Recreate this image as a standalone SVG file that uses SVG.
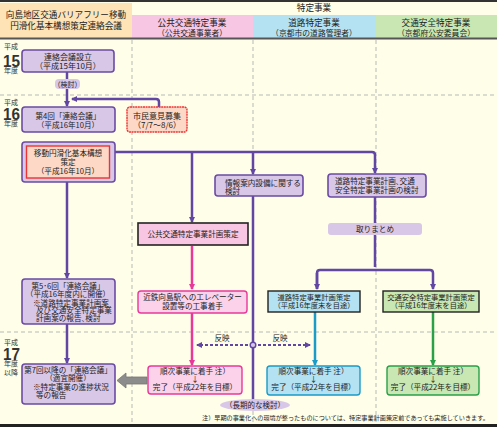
<svg xmlns="http://www.w3.org/2000/svg" width="497" height="427" viewBox="0 0 497 427">
<style>
text{font-family:"Noto Sans CJK JP","Noto Sans CJK SC",sans-serif;fill:#222;font-size:7.6px}
.c{text-anchor:middle}
.h{font-size:8.6px}
.sub{font-size:7.8px}
.yr{font-family:"Liberation Sans",sans-serif;font-weight:bold;font-size:17px;fill:#333}
.ys{font-size:7px;fill:#333}
.pn{fill:#d9c7e7;stroke:#6a4ca3;stroke-width:1.6}
.pill{fill:#d9c7e7;stroke:none}
.red{fill:#fdd8c6;stroke:#ee3333;stroke-width:1.4}
.pl{fill:none;stroke:#6246a3;stroke-width:2.5}
.pk{fill:none;stroke:#e8389a;stroke-width:2.5}
.bl{fill:none;stroke:#1a9bc8;stroke-width:2.5}
.gr{fill:none;stroke:#2aa048;stroke-width:2.5}
.grid{stroke:#b8b8b8;stroke-width:1;stroke-dasharray:4 3;fill:none}
</style>
<defs>
<marker id="ap" markerWidth="6" markerHeight="6" refX="5" refY="3" orient="auto" markerUnits="userSpaceOnUse"><path d="M0,0 L6,3 L0,6 z" fill="#6246a3"/></marker>
<marker id="ak" markerWidth="6" markerHeight="6" refX="5" refY="3" orient="auto" markerUnits="userSpaceOnUse"><path d="M0,0 L6,3 L0,6 z" fill="#e8389a"/></marker>
<marker id="ab" markerWidth="6" markerHeight="6" refX="5" refY="3" orient="auto" markerUnits="userSpaceOnUse"><path d="M0,0 L6,3 L0,6 z" fill="#1a9bc8"/></marker>
<marker id="ag" markerWidth="6" markerHeight="6" refX="5" refY="3" orient="auto" markerUnits="userSpaceOnUse"><path d="M0,0 L6,3 L0,6 z" fill="#2aa048"/></marker>
</defs>
<rect x="0" y="0" width="497" height="427" fill="#fffee8"/>
<g id="header">
<rect x="0" y="3" width="132" height="35" fill="#fde3b6"/>
<rect x="132" y="15" width="121" height="23" fill="#f6c6e3"/>
<rect x="253" y="15" width="123" height="23" fill="#b5e2f2"/>
<rect x="376" y="15" width="121" height="23" fill="#c8e7b3"/>
<rect x="0" y="0" width="497" height="2" fill="#333"/>
<rect x="0" y="37.5" width="497" height="2" fill="#555"/>
<text class="h c"><tspan x="66" y="17.5">向島地区交通バリアフリー移動</tspan><tspan x="66" y="29">円滑化基本構想策定連絡会議</tspan></text>
<text class="h c" x="314" y="11">特定事業</text>
<text class="h c"><tspan x="192" y="26">公共交通特定事業</tspan><tspan class="sub" x="192" y="35.5">（公共交通事業者）</tspan></text>
<text class="h c"><tspan x="314" y="26">道路特定事業</tspan><tspan class="sub" x="314" y="35.5">（京都市の道路管理者）</tspan></text>
<text class="h c"><tspan x="436" y="26">交通安全特定事業</tspan><tspan class="sub" x="436" y="35.5">（京都府公安委員会）</tspan></text>
</g>
<g id="grid">
<path class="grid" d="M132,40 V423 M253,40 V423 M376,40 V423 M0,95 H497 M0,332 H497"/>
</g>
<g id="years">
<text class="ys"><tspan x="4" y="49">平成</tspan><tspan class="yr" x="3" y="67" textLength="17" lengthAdjust="spacingAndGlyphs">15</tspan><tspan x="4" y="73">年度</tspan></text>
<text class="ys"><tspan x="4" y="105">平成</tspan><tspan class="yr" x="3" y="120" textLength="17" lengthAdjust="spacingAndGlyphs">16</tspan><tspan x="4" y="126">年度</tspan></text>
<text class="ys"><tspan x="4" y="345">平成</tspan><tspan class="yr" x="3" y="360" textLength="17" lengthAdjust="spacingAndGlyphs">17</tspan><tspan x="4" y="366">年度</tspan><tspan x="4" y="375">以降</tspan></text>
</g>
<g id="connectors">
<path class="pl" d="M67,72 V79"/>
<path class="pl" d="M67,89 V106" marker-end="url(#ap)"/>
<path class="pl" d="M159,107 V102 Q159,99 156,99 H72" marker-end="url(#ap)"/>
<path class="pl" d="M67,182 V278" marker-end="url(#ap)"/>
<path class="pl" d="M67,324 V363" marker-end="url(#ap)"/>
<path class="pl" d="M115,152 H372 Q375,152 375,155 V173" marker-end="url(#ap)"/>
<path class="pl" d="M192,152 V222" marker-end="url(#ap)"/>
<path class="pl" d="M253,152 V174" marker-end="url(#ap)"/>
<path class="pl" d="M253,196 V400"/>
<path class="pl" d="M375,197 V267"/>
<path class="pl" d="M317,289 V273 Q317,270 320,270 H430 Q433,270 433,273 V289" marker-end="url(#ap)"/>
<path class="pl" d="M317,273 V289" marker-end="url(#ap)"/>
<path class="pk" d="M192,246 V289" marker-end="url(#ak)"/>
<path class="pk" d="M192,313 V365" marker-end="url(#ak)"/>
<path class="bl" d="M315,312 V365" marker-end="url(#ab)"/>
<path class="gr" d="M433,312 V365" marker-end="url(#ag)"/>
<path d="M253,345 H197" fill="none" stroke="#6246a3" stroke-width="2" stroke-dasharray="3 2" marker-end="url(#ap)"/>
<path d="M253,345 H310" fill="none" stroke="#6246a3" stroke-width="2" stroke-dasharray="3 2" marker-end="url(#ap)"/>
<circle cx="253" cy="345" r="2.8" fill="#d9c7e7" stroke="#6246a3" stroke-width="1.4"/>
<text x="222" y="341" class="c">反映</text>
<text x="280" y="341" class="c">反映</text>
<path d="M147,377 H126 V373 L117,380.5 L126,388 V384 H147 z" fill="#8c8c8c" stroke="#777" stroke-width="0.8"/>
</g>
<g id="n1"><rect class="pn" x="22" y="50" width="92" height="22" rx="3"/><text class="c" style="font-size:8px"><tspan x="68" y="60">連絡会議設立</tspan><tspan x="68" y="69">（平成15年10月）</tspan></text></g>
<g id="n2"><rect class="pill" x="55" y="79" width="25" height="10" rx="4"/><text class="c" x="67.5" y="87" style="font-size:7px">（検討）</text></g>
<g id="n3"><rect class="pn" x="22" y="107" width="93" height="25" rx="3"/><text class="c"><tspan x="68" y="119">第4回「連絡会議」</tspan><tspan x="68" y="128">（平成16年10月）</tspan></text></g>
<g id="n4"><rect class="red" x="127" y="107" width="60" height="25" rx="3" stroke-dasharray="2 0.6"/><text class="c" style="font-size:8px"><tspan x="157" y="119">市民意見募集</tspan><tspan x="157" y="128">（7/7～8/6）</tspan></text></g>
<g id="n5"><rect class="pn" x="22" y="142" width="93" height="40" rx="3"/><rect class="red" x="26.5" y="146" width="83" height="32"/><text class="c"><tspan x="68" y="156">移動円滑化基本構想</tspan><tspan x="68" y="165">策定</tspan><tspan x="68" y="174">（平成16年10月）</tspan></text></g>
<g id="n6"><rect class="pn" x="215" y="175" width="88" height="21" rx="3"/><text><tspan x="225" y="185.5">情報案内設備に関する</tspan><tspan x="225" y="193.5">検討</tspan></text></g>
<g id="n7"><rect class="pn" x="328" y="174" width="98" height="23" rx="3"/><text><tspan x="335" y="184">道路特定事業計画､交通</tspan><tspan x="335" y="193">安全特定事業計画の検討</tspan></text></g>
<g id="n8"><rect class="pill" x="328" y="223" width="94" height="12" rx="3"/><text class="c" x="375" y="232">取りまとめ</text></g>
<g id="n9"><rect x="138" y="223" width="110" height="22" fill="#f8c6e3" stroke="#222" stroke-width="1.6"/><text class="c" x="193" y="237">公共交通特定事業計画策定</text></g>
<g id="n10"><rect x="138" y="291" width="109" height="22" rx="3" fill="#fbd2ea" stroke="#e8389a" stroke-width="1.4"/><text class="c"><tspan x="192.5" y="300">近鉄向島駅へのエレベーター</tspan><tspan x="192.5" y="308.5">設置等の工事着手</tspan></text></g>
<g id="n11"><rect x="268" y="291" width="92" height="21" fill="#b5e2f2" stroke="#222" stroke-width="1.4"/><text class="c" style="font-size:7.3px"><tspan x="314" y="300">道路特定事業計画策定</tspan><tspan x="314" y="308">（平成16年度末を目途）</tspan></text></g>
<g id="n12"><rect x="383" y="291" width="96" height="21" fill="#c8e7b3" stroke="#222" stroke-width="1.4"/><text class="c" style="font-size:7.3px"><tspan x="431" y="300">交通安全特定事業計画策定</tspan><tspan x="431" y="308">（平成16年度末を目途）</tspan></text></g>
<g id="n13"><rect class="pn" x="22" y="279" width="93" height="45" rx="3"/><text><tspan class="c" x="68" y="289">第5･6回「連絡会議」</tspan><tspan class="c" x="68" y="297">（平成16年度内に開催）</tspan><tspan x="33" y="305.5">※道路特定事業計画案</tspan><tspan x="36" y="313">及び交通安全特定事業</tspan><tspan x="36" y="320.5">計画案の報告､検討</tspan></text></g>
<g id="n14"><rect class="pn" x="22" y="364" width="93" height="40" rx="3"/><text><tspan class="c" x="68" y="373">第7回以降の「連絡会議」</tspan><tspan class="c" x="68" y="381">（適宜開催）</tspan><tspan x="33" y="390">※特定事業の進捗状況</tspan><tspan x="36" y="398">等の報告</tspan></text></g>
<g id="n15"><rect x="148" y="366" width="94" height="28" rx="3" fill="#fbd2ea" stroke="#e8389a" stroke-width="1.4"/><text class="c"><tspan x="195" y="374">順次事業に着手 注）</tspan><tspan x="195" y="382">↓</tspan><tspan x="195" y="390">完了（平成22年を目標）</tspan></text></g>
<g id="n16"><rect x="267" y="366" width="93" height="29" rx="3" fill="#b5e2f2" stroke="#1a9bc8" stroke-width="1.4"/><text class="c"><tspan x="313.5" y="374">順次事業に着手 注）</tspan><tspan x="313.5" y="382">↓</tspan><tspan x="313.5" y="390">完了（平成22年を目標）</tspan></text></g>
<g id="n17"><rect x="387" y="366" width="92" height="29" rx="3" fill="#c8e7b3" stroke="#2aa048" stroke-width="1.4"/><text class="c"><tspan x="433" y="374">順次事業に着手 注）</tspan><tspan x="433" y="382">↓</tspan><tspan x="433" y="390">完了（平成22年を目標）</tspan></text></g>
<g id="n18"><ellipse cx="255" cy="405" rx="35" ry="6" fill="#d9c7e7"/><text class="c" x="255" y="408" style="font-size:7.5px">（長期的な検討）</text></g>
<text x="202" y="419.5" style="font-size:6.15px">注）早期の事業化への環境が整ったものについては、特定事業計画策定前であっても実施していきます。</text>
<rect x="0" y="424" width="497" height="3" fill="#222"/>
</svg>
